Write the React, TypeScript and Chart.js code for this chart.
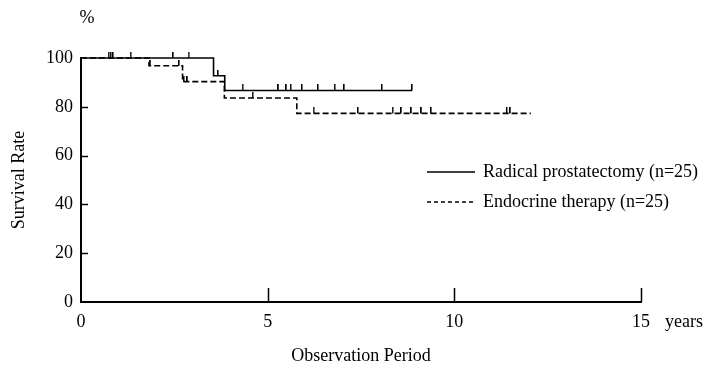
import { useEffect, useRef } from "react";
import { Chart, registerables } from "chart.js";

Chart.register(...registerables);

// Kaplan-Meier curves (time in years, survival in %)
const rpTimes = [0, 3.55, 3.85, 8.87];
const rpSurvival = [100, 92.7, 86.7, 86.7];
const rpCensored = [0.74, 0.8, 0.86, 1.33, 2.47, 2.88, 3.67, 4.33, 5.29, 5.5, 5.62, 5.92, 6.35, 6.8, 7.05, 8.06, 8.87];

const etTimes = [0, 1.82, 2.72, 3.84, 5.78, 12.05];
const etSurvival = [100, 96.8, 90.3, 83.6, 77.3, 77.3];
const etCensored = [1.86, 2.63, 2.76, 2.85, 4.6, 6.23, 7.42, 8.35, 8.58, 8.85, 9.12, 9.38, 11.41, 11.5];

const seriesLabels = ["Radical prostatectomy (n=25)", "Endocrine therapy (n=25)"];
const xTicks = [0, 5, 10, 15];
const yTicks = [0, 20, 40, 60, 80, 100];

const FONT = '"Liberation Serif", "DejaVu Serif", serif';

function survivalAt(times: number[], surv: number[], t: number) {
  let s = surv[0];
  for (let i = 0; i < times.length; i++) if (times[i] <= t) s = surv[i];
  return s;
}

function makeCensorMark() {
  const c = document.createElement("canvas");
  c.width = 2;
  c.height = 12;
  const g = c.getContext("2d")!;
  g.fillStyle = "#000";
  g.fillRect(0, 0, 1.5, 6);
  return c;
}

const decorPlugin = {
  id: "decor",
  afterDraw(chart: any) {
    const { ctx, chartArea, scales } = chart;
    const x = scales.x;
    const y = scales.y;
    ctx.save();
    ctx.strokeStyle = "#000";
    ctx.lineWidth = 1.5;
    // inward ticks
    yTicks.forEach((v) => {
      if (v === 0 || v === 100) return;
      const py = Math.round(y.getPixelForValue(v)) + 0.5;
      ctx.beginPath();
      ctx.moveTo(chartArea.left, py);
      ctx.lineTo(chartArea.left + 7, py);
      ctx.stroke();
    });
    xTicks.forEach((v) => {
      if (v === 0) return;
      const px = Math.round(x.getPixelForValue(v)) + 0.5;
      ctx.beginPath();
      ctx.moveTo(px, chartArea.bottom);
      ctx.lineTo(px, chartArea.bottom - 14);
      ctx.stroke();
    });
    // legend
    const legendDash = [[], [4, 3]];
    const legendY = [172, 202];
    ctx.font = `18px ${FONT}`;
    ctx.fillStyle = "#000";
    ctx.textBaseline = "middle";
    ctx.textAlign = "left";
    seriesLabels.forEach((label, i) => {
      ctx.setLineDash(legendDash[i]);
      ctx.lineWidth = 1.5;
      ctx.beginPath();
      ctx.moveTo(427, legendY[i]);
      ctx.lineTo(475, legendY[i]);
      ctx.stroke();
      ctx.setLineDash([]);
      ctx.fillText(label, 483, legendY[i]);
    });
    // unit labels
    ctx.textAlign = "left";
    ctx.fillText("years", chartArea.right + 24, 322);
    ctx.textAlign = "center";
    ctx.fillText("%", chartArea.left + 6, 18);
    ctx.restore();
  },
};

export default function App() {
  const ref = useRef<HTMLCanvasElement>(null);
  useEffect(() => {
    document.body.style.margin = "0";
    const mark = makeCensorMark();
    const toPts = (t: number[], s: number[]) => t.map((v, i) => ({ x: v, y: s[i] }));
    const toCens = (c: number[], t: number[], s: number[]) => c.map((v) => ({ x: v, y: survivalAt(t, s, v) }));
    const chart = new Chart(ref.current!, {
      type: "line",
      data: {
        datasets: [
          {
            label: seriesLabels[0],
            data: toPts(rpTimes, rpSurvival),
            stepped: "before",
            borderColor: "#000",
            borderWidth: 1.6,
            pointRadius: 0,
            fill: false,
            clip: false,
          },
          {
            label: seriesLabels[1],
            data: toPts(etTimes, etSurvival),
            stepped: "before",
            borderColor: "#000",
            borderWidth: 1.6,
            borderDash: [6, 3],
            pointRadius: 0,
            fill: false,
            clip: false,
          },
          {
            type: "scatter",
            label: "censored-rp",
            data: toCens(rpCensored, rpTimes, rpSurvival),
            pointStyle: mark,
            pointRadius: 6,
            showLine: false,
            clip: false,
          },
          {
            type: "scatter",
            label: "censored-et",
            data: toCens(etCensored, etTimes, etSurvival),
            pointStyle: mark,
            pointRadius: 6,
            showLine: false,
            clip: false,
          },
        ] as any,
      },
      options: {
        animation: false,
        responsive: false,
        events: [],
        layout: { padding: { left: 0, top: 58, right: 75, bottom: 0 } },
        plugins: { legend: { display: false }, tooltip: { enabled: false } },
        scales: {
          x: {
            type: "linear",
            min: 0,
            max: 15,
            afterFit: (s: any) => {
              s.height = 68;
            },
            afterBuildTicks: (s: any) => {
              s.ticks = xTicks.map((v) => ({ value: v }));
            },
            grid: { display: false, drawTicks: false },
            border: { display: true, color: "#000", width: 2 },
            ticks: { color: "#000", font: { family: FONT, size: 18 }, padding: 9, maxRotation: 0 },
            title: {
              display: true,
              text: "Observation Period",
              color: "#000",
              font: { family: FONT, size: 18 },
              padding: { top: 0, bottom: 3 },
            },
          },
          y: {
            type: "linear",
            min: 0,
            max: 100,
            afterFit: (s: any) => {
              s.width = 81;
            },
            afterBuildTicks: (s: any) => {
              s.ticks = yTicks.map((v) => ({ value: v }));
            },
            grid: { display: false, drawTicks: false },
            border: { display: true, color: "#000", width: 2 },
            ticks: { color: "#000", font: { family: FONT, size: 18 }, padding: 8 },
            title: {
              display: true,
              text: "Survival Rate",
              color: "#000",
              font: { family: FONT, size: 18 },
              padding: { top: 8, bottom: 0 },
            },
          },
        },
      },
      plugins: [decorPlugin],
    });
    return () => chart.destroy();
  }, []);
  return <canvas ref={ref} width={716} height={370} />;
}
